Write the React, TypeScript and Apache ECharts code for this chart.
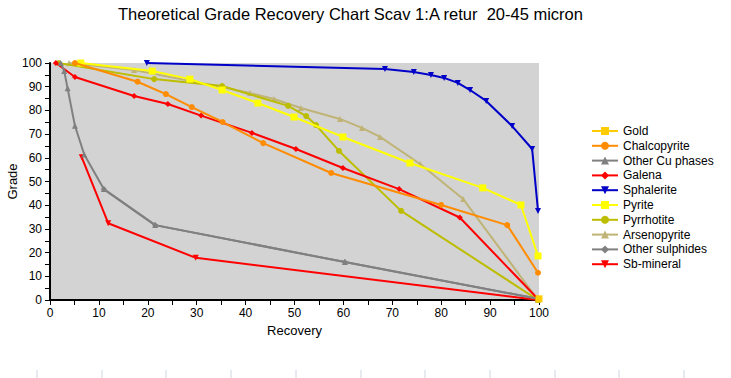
import React, { useEffect, useRef } from "react";
import * as echarts from "echarts";

const titleText = "Theoretical Grade Recovery Chart Scav 1:A retur  20-45 micron";
const seriesNames = [
  "Gold",
  "Chalcopyrite",
  "Other Cu phases",
  "Galena",
  "Sphalerite",
  "Pyrite",
  "Pyrrhotite",
  "Arsenopyrite",
  "Other sulphides",
  "Sb-mineral",
];

const gold = [[100, 0.5]];
const chalcopyrite = [
  [5.1, 100], [17.9, 92.1], [23.7, 86.9], [29.0, 81.4], [35.3, 75.1],
  [43.6, 66.2], [57.5, 53.6], [80.0, 40.1], [93.5, 31.6], [99.8, 11.5],
];
const otherCu = [
  [2.2, 100], [2.9, 96.6], [3.6, 89.3], [5.1, 73.5], [7.0, 61.4],
  [11.0, 46.8], [21.5, 31.6], [60.3, 16.0], [99.8, 0.5],
];
const galena = [
  [1.2, 100], [5.1, 94.1], [17.2, 86.1], [24.1, 82.7], [30.9, 77.8],
  [41.3, 70.5], [50.3, 63.7], [59.9, 55.7], [71.4, 46.8], [83.8, 34.8], [99.8, 0.4],
];
const sphalerite = [
  [19.8, 100], [68.5, 97.5], [74.4, 96.2], [77.9, 94.9], [80.6, 93.7],
  [83.4, 91.6], [85.9, 88.6], [89.2, 84.0], [94.5, 73.4], [98.6, 63.7], [99.8, 37.6],
];
const pyrite = [
  [6.3, 100], [20.9, 96.6], [28.6, 93.2], [35.2, 88.6], [42.5, 83.1],
  [49.9, 77.2], [59.9, 68.8], [73.6, 57.8], [88.5, 47.3], [96.3, 40.1], [99.8, 18.6],
];
const pyrrhotite = [
  [1.8, 100], [21.3, 93.2], [35.2, 90.3], [48.7, 81.9], [52.4, 77.6],
  [54.4, 73.8], [59.1, 62.9], [71.8, 37.6], [99.8, 0],
];
const arsenopyrite = [
  [3.9, 100], [17.2, 97.0], [35.2, 89.9], [40.9, 87.3], [45.8, 84.8],
  [51.3, 81.0], [59.3, 76.4], [63.8, 72.6], [67.5, 68.8], [75.7, 57.4],
  [84.5, 42.6], [99.8, 0],
];
const otherSulphides = [
  [11.0, 46.8], [21.5, 31.6], [60.3, 16.0], [99.8, 0.5],
];
const sbMineral = [
  [6.5, 60.2], [11.9, 32.4], [29.8, 17.8], [99.8, 0],
];

const seriesData = [
  gold, chalcopyrite, otherCu, galena, sphalerite,
  pyrite, pyrrhotite, arsenopyrite, otherSulphides, sbMineral,
];
const colors = [
  "#FFCC00", "#FF8C00", "#808080", "#FF0000", "#0000C8",
  "#FFFF00", "#BDBD00", "#BFB476", "#808080", "#FF0000",
];
const symbols = [
  "rect", "circle", "triangle", "diamond", "triangle",
  "rect", "circle", "triangle", "diamond", "triangle",
];
const rotates = [0, 0, 0, 0, 180, 0, 0, 0, 0, 180];
const bottomTickXs = [37, 102, 166, 231, 296, 361, 425, 490, 555, 619, 684];

export default function App() {
  const ref = useRef<HTMLDivElement>(null);
  useEffect(() => {
    if (!ref.current) return;
    const chart = echarts.init(ref.current, null, { renderer: "svg" });
    const font = "Liberation Sans, Arial, sans-serif";
    chart.setOption({
      animation: false,
      textStyle: { fontFamily: font },
      title: {
        text: titleText,
        left: 113,
        top: 0,
        textStyle: { fontSize: 16.5, fontWeight: "normal", color: "#000", fontFamily: font },
      },
      grid: {
        left: 50,
        right: 192,
        top: 63,
        bottom: 78,
        show: true,
        backgroundColor: "#D3D3D3",
        borderWidth: 0,
        containLabel: false,
        outerBoundsMode: "none",
      },
      legend: {
        orient: "vertical",
        left: 586,
        top: 120,
        itemWidth: 26,
        itemHeight: 10,
        itemGap: 2.8,
        textStyle: { fontSize: 12, color: "#000", fontFamily: font },
        data: seriesNames,
      },
      xAxis: {
        type: "value",
        min: 0,
        max: 100,
        interval: 10,
        name: "Recovery",
        nameLocation: "middle",
        nameGap: 24,
        nameMoveOverlap: false,
        nameTextStyle: { fontSize: 13, color: "#000" },
        axisLine: { show: true, onZero: false, lineStyle: { color: "#000", width: 2 } },
        axisTick: { show: true, length: 5, lineStyle: { color: "#000" } },
        minorTick: { show: true, splitNumber: 2, length: 5, lineStyle: { color: "#000" } },
        axisLabel: { fontSize: 12, color: "#000", margin: 7 },
        splitLine: { show: false },
      },
      yAxis: {
        type: "value",
        min: 0,
        max: 100,
        interval: 10,
        name: "Grade",
        nameLocation: "middle",
        nameGap: 31,
        nameMoveOverlap: false,
        nameTextStyle: { fontSize: 13, color: "#000" },
        axisLine: { show: true, onZero: false, lineStyle: { color: "#000", width: 2 } },
        axisTick: { show: true, length: 5, lineStyle: { color: "#000" } },
        minorTick: { show: true, splitNumber: 2, length: 5, lineStyle: { color: "#000" } },
        axisLabel: { fontSize: 12, color: "#000", margin: 8 },
        splitLine: { show: false },
      },
      graphic: bottomTickXs.map((x) => ({
        type: "line",
        shape: { x1: x, y1: 370, x2: x, y2: 378 },
        style: { stroke: "#D0D4E4", lineWidth: 1 },
      })),
      series: seriesNames.map((name, i) => ({
        name,
        type: "line",
        data: seriesData[i],
        symbol: symbols[i],
        symbolRotate: rotates[i],
        symbolSize: i === 0 || i === 5 ? 7 : 6,
        showAllSymbol: true,
        clip: false,
        z: 10 - i,
        itemStyle: { color: colors[i] },
        lineStyle: { color: colors[i], width: 2 },
      })),
    });
    return () => chart.dispose();
  }, []);
  return (
    <div
      ref={ref}
      style={{ position: "absolute", left: 0, top: 0, width: 731, height: 378 }}
    />
  );
}
